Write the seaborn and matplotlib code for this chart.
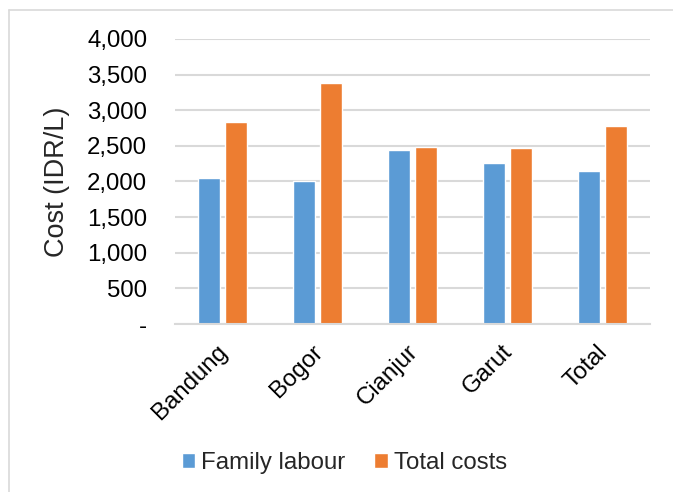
import matplotlib
matplotlib.use("Agg")
import matplotlib.pyplot as plt
import matplotlib.transforms as mtransforms
import seaborn as sns
import pandas as pd
from matplotlib.lines import Line2D
from matplotlib.ticker import FuncFormatter

categories = ["Bandung", "Bogor", "Cianjur", "Garut", "Total"]
family_labour = [2056, 2000, 2444, 2266, 2154]
total_costs = [2841, 3383, 2481, 2477, 2780]
series_names = ["Family labour", "Total costs"]
colors = ["#5B9BD5", "#ED7D31"]

df = pd.DataFrame({
    "Region": categories * 2,
    "Series": [series_names[0]] * len(categories) + [series_names[1]] * len(categories),
    "Cost": family_labour + total_costs,
})

sns.set_theme(style="white")
plt.rcParams["font.family"] = ["Liberation Sans", "DejaVu Sans"]

fig = plt.figure(figsize=(6.73, 4.92), dpi=100)
ax = fig.add_axes([175/673, 1-324/492, 475/673, (324-39)/492])

sns.barplot(data=df, x="Region", y="Cost", hue="Series", palette=colors,
            width=0.57, gap=0.22, ax=ax, saturation=1, legend=True)

ax.set_ylim(0, 4000)
ax.set_yticks(range(0, 4001, 500))
ax.yaxis.set_major_formatter(FuncFormatter(lambda v, p: "-" if v == 0 else f"{int(v):,}"))
ax.yaxis.grid(True, color="#D9D9D9", linewidth=1.5)
ax.set_axisbelow(True)
for s in ["top", "right", "left"]:
    ax.spines[s].set_visible(False)
ax.spines["bottom"].set_color("#D9D9D9")
ax.spines["bottom"].set_linewidth(1.5)
ax.tick_params(axis="both", length=0, labelsize=17.3, colors="black")
ax.tick_params(axis="y", pad=20)
ax.tick_params(axis="x", pad=12)
shift = mtransforms.ScaledTranslation(-6/100, 0, fig.dpi_scale_trans)
for lbl in ax.get_xticklabels():
    lbl.set_rotation(45)
    lbl.set_ha("right")
    lbl.set_rotation_mode("anchor")
    lbl.set_transform(lbl.get_transform() + shift)
ax.set_xlabel("")
ax.set_ylabel("Cost (IDR/L)", fontsize=19.5, labelpad=12)

leg = ax.legend(loc="center", bbox_to_anchor=(344.5/673, (492-463)/492), bbox_transform=fig.transFigure,
                ncol=2, frameon=False, fontsize=17.3, handlelength=0.55, handleheight=0.55,
                handletextpad=0.25, columnspacing=1.2)

# outer frame
fig.add_artist(Line2D([9/673, 9/673], [0, 1-10/492], transform=fig.transFigure, color="#D9D9D9", lw=1.2))
fig.add_artist(Line2D([9/673, 1], [1-10/492, 1-10/492], transform=fig.transFigure, color="#D9D9D9", lw=1.2))

fig.savefig("out.png", dpi=100)
